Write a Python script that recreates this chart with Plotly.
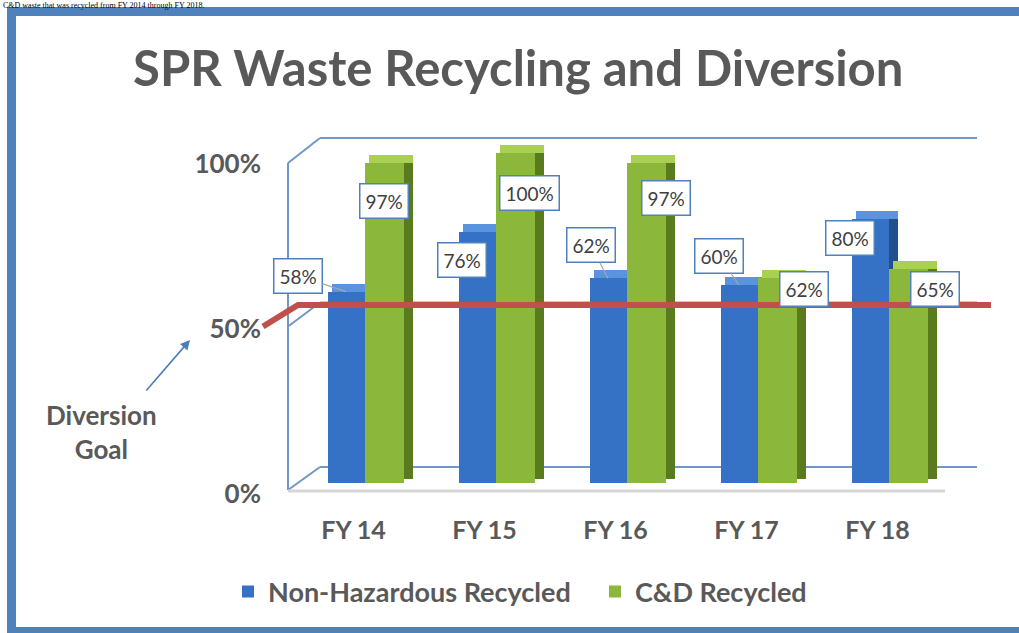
import plotly.graph_objects as go

# ---------------- data ----------------
categories = ["FY 14", "FY 15", "FY 16", "FY 17", "FY 18"]
non_haz = [58, 76, 62, 60, 80]
cd_recycled = [97, 100, 97, 62, 65]
non_haz_labels = ["58%", "76%", "62%", "60%", "80%"]
cd_labels = ["97%", "100%", "97%", "62%", "65%"]
series_names = ["Non-Hazardous Recycled", "C&D Recycled"]
goal = 50
y_ticks = [0, 50, 100]
y_tick_labels = ["0%", "50%", "100%"]
title_text = "SPR Waste Recycling and Diversion"
goal_text = "Diversion<br>Goal"
caption_text = "C&D waste that was recycled from FY 2014 through FY 2018."

# ---------------- geometry / style ----------------
W, H = 1019, 633
L, R, T, B = 288, 943, 137, 483          # plot area in px
PX_PER_PCT = 3.3
ymax = (B - T) / PX_PER_PCT
CAT_PX = (R - L) / len(categories)


def PX(x):
    return (x - L) / (R - L)


def PY(y):
    return (B - y) / (B - T)


def front_y(v):
    return 490 - 3.27 * v


def back_y(v):
    return 467 - 3.29 * v


FONT = "Lato, Open Sans, sans-serif"
GREY = "#595959"
depth_v = 8 / PX_PER_PCT
side_w = 9 / CAT_PX

series = [
    dict(vals=non_haz, name=series_names[0], off=-26 / CAT_PX, wid=37 / CAT_PX,
         front="#3572C5", top="#5A94DE", side="#22508C"),
    dict(vals=cd_recycled, name=series_names[1], off=11 / CAT_PX, wid=39 / CAT_PX,
         front="#8BB83B", top="#A9D052", side="#5A7A1E"),
]

fig = go.Figure()
for s in series:
    vals = s["vals"]
    fig.add_trace(go.Bar(
        x=categories, y=[v + depth_v / 2 for v in vals], base=[depth_v / 2] * len(vals),
        offset=s["off"] + s["wid"], width=side_w,
        marker=dict(color=s["side"], line=dict(width=0)),
        showlegend=False, hoverinfo="skip"))
    fig.add_trace(go.Bar(
        x=categories, y=[depth_v] * len(vals), base=vals,
        offset=s["off"] + side_w / 2, width=s["wid"] + side_w / 2,
        marker=dict(color=s["top"], line=dict(width=0)),
        showlegend=False, hoverinfo="skip"))
    fig.add_trace(go.Bar(
        x=categories, y=vals, offset=s["off"], width=s["wid"], name=s["name"],
        marker=dict(color=s["front"], line=dict(width=0))))

# ---------------- frame shapes ----------------
shapes = []
FRAME = "#7196C8"


def line(x0, y0, x1, y1, color=FRAME, width=2, layer="below"):
    shapes.append(dict(type="line", xref="paper", yref="paper",
                       x0=PX(x0), y0=PY(y0), x1=PX(x1), y1=PY(y1),
                       line=dict(color=color, width=width), layer=layer))


line(L, front_y(max(y_ticks)), L, front_y(0))
for v in y_ticks:
    line(L, front_y(v), 320, back_y(v))
    line(320, back_y(v), 977, back_y(v))
line(L, 491, 945, 491, color="#D6D6D6", width=3)

# goal line
shapes.append(dict(type="path", xref="paper", yref="paper",
                   path=f"M {PX(263)},{PY(front_y(goal))} L {PX(298)},{PY(back_y(goal) + 2.5)} "
                        f"L {PX(991)},{PY(back_y(goal) + 2.5)}",
                   line=dict(color="#C0504D", width=6), layer="above"))

# outer blue frame
BORDER = "#4F81BD"
for (x0, y0, x1, y1) in [(7, 7, 1040, 16), (7, 7, 16, 650), (7, 627, 1040, 650)]:
    shapes.append(dict(type="rect", xref="paper", yref="paper",
                       x0=PX(x0), y0=PY(y0), x1=PX(x1), y1=PY(y1),
                       fillcolor=BORDER, line=dict(width=0), layer="above"))

# ---------------- annotations ----------------
annotations = []
# label offsets (px) from the front-top centre of each bar: (dx, dy, leader)
nh_offsets = [(-48, -16, True), (-15, 28, False), (-17, -33, True), (-20, -29, True), (-20, 19, False)]
cd_offsets = [(0, 38, False), (14, 40, False), (20, 35, False), (27, 11, False), (27, 20, False)]

for s, labels, offs in [(series[0], non_haz_labels, nh_offsets), (series[1], cd_labels, cd_offsets)]:
    centre = s["off"] + s["wid"] / 2
    for i, (v, lab, (dx, dy, leader)) in enumerate(zip(s["vals"], labels, offs)):
        a = dict(x=i + centre, y=v, xref="x", yref="y", text=lab,
                 font=dict(family=FONT, size=19, color="#404040"),
                 bgcolor="white", bordercolor="#4F81BD", borderwidth=1.5, borderpad=5)
        if leader:
            a.update(showarrow=True, ax=dx, ay=dy, axref="pixel", ayref="pixel",
                     arrowhead=0, arrowwidth=1.2, arrowcolor="#A6A6A6", standoff=0)
        else:
            a.update(showarrow=False, xshift=dx, yshift=-dy)
        annotations.append(a)

annotations.append(dict(x=PX(518), y=PY(67), xref="paper", yref="paper", text=f"<b>{title_text}</b>",
                        showarrow=False, xanchor="center", yanchor="middle",
                        font=dict(family=FONT, size=49, color=GREY)))
annotations.append(dict(x=PX(101), y=PY(432), xref="paper", yref="paper", text=f"<b>{goal_text}</b>",
                        showarrow=False, align="center", xanchor="center", yanchor="middle",
                        font=dict(family=FONT, size=26, color=GREY)))
annotations.append(dict(x=PX(190), y=PY(340), xref="paper", yref="paper", text="",
                        showarrow=True, ax=-45, ay=52, arrowhead=2, arrowsize=1.2,
                        arrowwidth=1.6, arrowcolor="#4A7EBB", font=dict(size=1)))
annotations.append(dict(x=PX(2), y=PY(0), xref="paper", yref="paper", text=caption_text,
                        showarrow=False, xanchor="left", yanchor="top", borderpad=0,
                        font=dict(family="Liberation Serif, Times New Roman, serif", size=8, color="black")))

fig.update_layout(
    width=W, height=H, autosize=False,
    margin=dict(l=L, r=W - R, t=T, b=H - B, pad=0),
    paper_bgcolor="white", plot_bgcolor="white",
    barmode="overlay", bargap=0,
    xaxis=dict(type="category", range=[-0.5, len(categories) - 0.5], showgrid=False,
               showline=False, zeroline=False, ticks="", ticklabelstandoff=30,
               tickfont=dict(family=FONT, size=25, color=GREY, weight="bold")),
    yaxis=dict(range=[0, ymax], tickvals=y_ticks, ticktext=y_tick_labels, showgrid=False,
               showline=False, zeroline=False, ticks="", ticklabelstandoff=26, ticklabelshift=11,
               tickfont=dict(family=FONT, size=26, color=GREY, weight="bold")),
    legend=dict(orientation="h", x=PX(228), y=PY(592), xanchor="left", yanchor="middle",
                font=dict(family=FONT, size=27, color=GREY, weight="bold"),
                entrywidth=322, entrywidthmode="pixels", bgcolor="rgba(0,0,0,0)"),
    shapes=shapes, annotations=annotations,
)

fig.write_html("out.html", config={"displayModeBar": False},
               post_script="document.body.style.margin='0';")
